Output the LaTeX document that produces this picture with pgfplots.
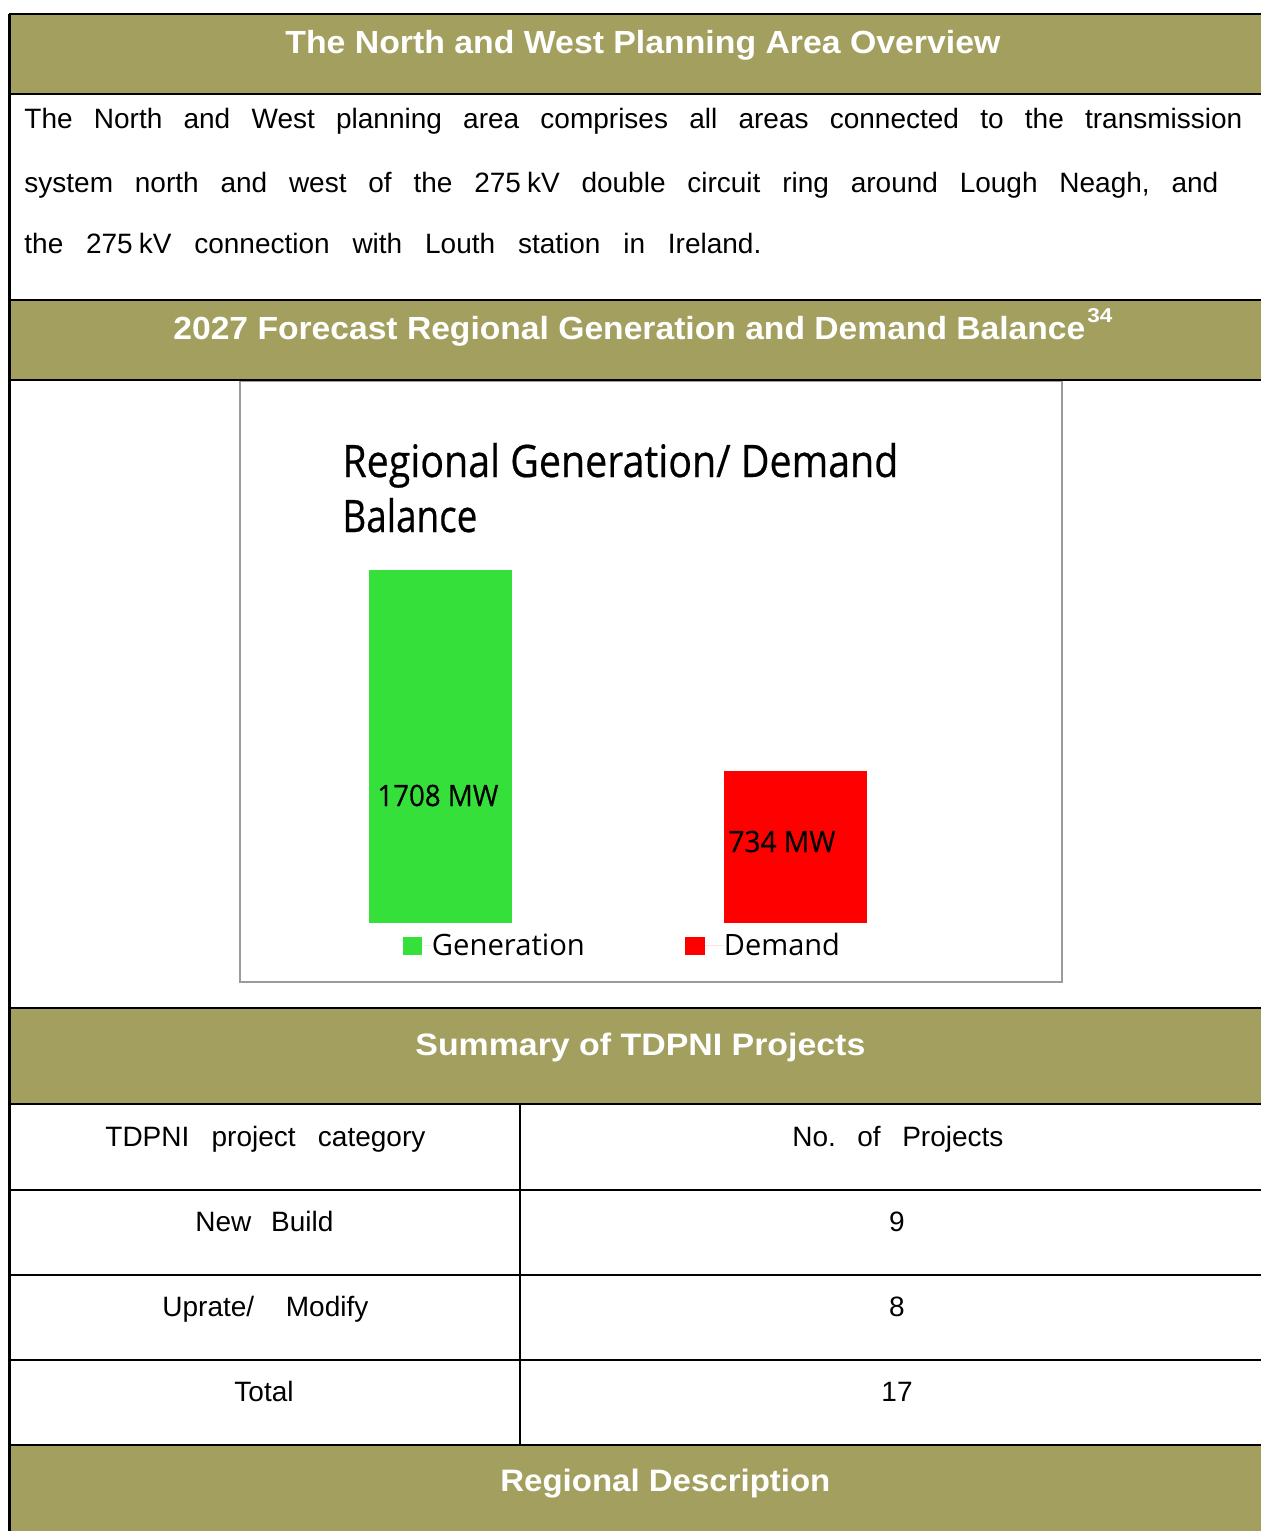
\documentclass[border=0pt]{standalone}
\usepackage{pgfplots}
\pgfplotsset{compat=1.18}
\usepackage{graphicx}
\usepackage{fontspec}
\setmainfont{Liberation Sans}
\newfontfamily\chartfont{Open Sans}
\newfontfamily\charttitlefont[FakeBold=0.5]{Open Sans}
\definecolor{hdrolive}{RGB}{163,160,95}
\definecolor{gengreen}{RGB}{54,224,58}
\definecolor{demred}{RGB}{255,0,0}
\definecolor{boxgray}{RGB}{155,155,155}
\newcommand{\fit}[2]{\resizebox{#1}{\height}{#2}}
\newcommand{\jus}[2]{\makebox[#1][s]{#2}}
\frenchspacing
\begin{document}
\begin{tikzpicture}
\begin{scope}[x=0.5pt,y=-0.5pt]
\path[use as bounding box, fill=white] (0,0) rectangle (1261,1531);
% header fills
\fill[hdrolive] (10,14) rectangle (1261,94);
\fill[hdrolive] (10,300) rectangle (1261,380);
\fill[hdrolive] (10,1008) rectangle (1261,1104);
\fill[hdrolive] (10,1445) rectangle (1261,1531);
% chart frame
\draw[boxgray, line width=1pt] (240,381) rectangle (1062,982);
% black rules
\begin{scope}[line width=1.2pt, black]
\draw (8.5,14) -- (1261,14);
\draw (9.5,14) -- (9.5,1531);
\foreach \yy in {94,300,380,1008,1104,1190,1275,1360,1445}
  \draw (9.5,\yy) -- (1261,\yy);
\draw (520,1104) -- (520,1445);
\end{scope}
% headers
\begin{scope}[every node/.style={inner sep=0pt, anchor=base west, text=white}]
\node[font=\fontsize{16}{19}\selectfont\bfseries] at (285,53) {\fit{357.5pt}{The North and West Planning Area Overview}};
\node[font=\fontsize{16}{19}\selectfont\bfseries] at (173,339) {\fit{456pt}{2027 Forecast Regional Generation and Demand Balance}};
\node[font=\fontsize{10}{12}\selectfont\bfseries] at (1087,322) {\fit{12.5pt}{34}};
\node[font=\fontsize{15.5}{18}\selectfont\bfseries] at (415,1055) {\fit{225pt}{Summary of TDPNI Projects}};
\node[font=\fontsize{15.5}{18}\selectfont\bfseries] at (500,1491) {\fit{165pt}{Regional Description}};
\end{scope}
% body text
\begin{scope}[every node/.style={inner sep=0pt, anchor=base west, text=black, font=\fontsize{14}{17}\selectfont}]
\node at (24,128) {\jus{609pt}{The North and West planning area comprises all areas connected to the transmission}};
\node at (24,192) {\jus{597pt}{system north and west of the 275\kern3pt kV double circuit ring around Lough Neagh, and}};
\node at (24,253) {\jus{368.5pt}{the 275\kern3pt kV connection with Louth station in Ireland.}};
% table
\node at (105,1146) {\jus{160pt}{TDPNI project category}};
\node at (792,1146) {\jus{105.5pt}{No. of Projects}};
\node at (195,1231) {\jus{69pt}{New Build}};
\node at (162,1316) {\jus{103pt}{Uprate/ Modify}};
\node[anchor=base] at (264,1401) {Total};
\node[anchor=base] at (897,1231) {9};
\node[anchor=base] at (897,1316) {8};
\node[anchor=base] at (897,1401) {17};
\end{scope}
% chart title
\begin{scope}[every node/.style={inner sep=0pt, anchor=base west, text=black, font=\charttitlefont\fontsize{22.4}{26}\selectfont}]
\node at (342,477) {\fit{278pt}{Regional Generation/ Demand}};
\node at (342,532) {\fit{67.5pt}{Balance}};
\end{scope}
\coordinate (axisSW) at (263.25,923);
\end{scope}
\begin{axis}[
  at={(axisSW)}, anchor=south west,
  scale only axis, width=354.5pt, height=176.5pt,
  xmin=-0.5, xmax=1.5, ymin=0, ymax=1708,
  hide axis, clip=false,
  legend columns=2,
  legend style={at={(0.197,-0.065)}, anchor=west, draw=none, fill=none,
    inner xsep=0pt, inner ysep=0pt, outer sep=0pt,
    font=\chartfont\fontsize{14.7}{17}\selectfont,
    nodes={inner sep=0pt, outer sep=0pt}, cells={anchor=base west}},
]
\addplot[ybar, bar width=71.5pt, bar shift=0pt, fill=gengreen, draw=none,
  legend image code/.code={\fill[gengreen] (0pt,0.5pt) rectangle (9.5pt,9.5pt);
    \path (0pt,5pt) -- (14.5pt,5pt);}]
  coordinates {(0,1708)};
\addlegendentry{\fit{76.5pt}{Generation}\hspace*{50pt}}
\addplot[ybar, bar width=71.5pt, bar shift=0pt, fill=demred, draw=none,
  legend image code/.code={\fill[demred] (0pt,0.5pt) rectangle (10pt,9.5pt);
    \path (0pt,5pt) -- (19.5pt,5pt);}]
  coordinates {(1,734)};
\addlegendentry{\fit{58pt}{Demand}}
\node[anchor=base west, inner sep=0pt, font=\charttitlefont\fontsize{14.7}{17}\selectfont] at (axis cs:-0.1791,566.1) {\fit{60.5pt}{1708 MW}};
\node[anchor=base west, inner sep=0pt, font=\charttitlefont\fontsize{14.7}{17}\selectfont] at (axis cs:0.811,343.5) {\fit{53.5pt}{734 MW}};
\end{axis}
\end{tikzpicture}
\end{document}
